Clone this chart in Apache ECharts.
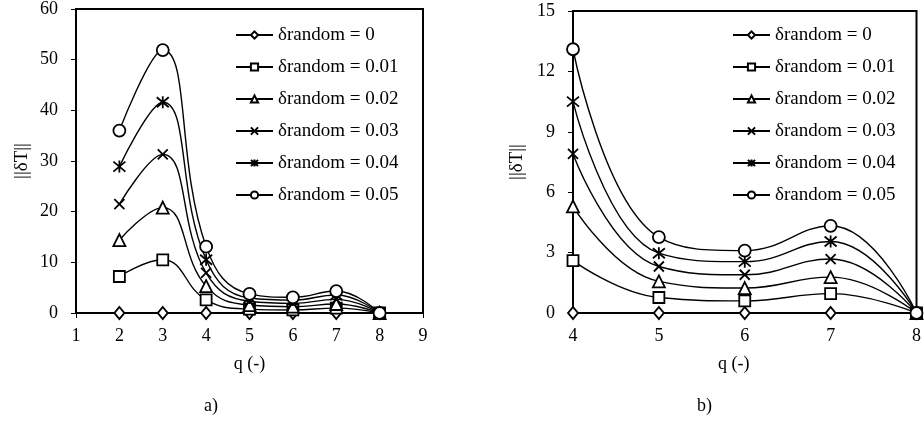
<!DOCTYPE html>
<html>
<head>
<meta charset="utf-8">
<script src="https://cdn.jsdelivr.net/npm/echarts@6/dist/echarts.min.js"></script>
<style>
  html, body { margin: 0; padding: 0; background: #fff; }
  #chart { width: 924px; height: 427px; }
</style>
</head>
<body>
<div id="chart"></div>
<script>
// q values and ||δT|| per δrandom level
const qValues = [2, 3, 4, 5, 6, 7, 8]
const names = ['δrandom = 0', 'δrandom = 0.01', 'δrandom = 0.02', 'δrandom = 0.03', 'δrandom = 0.04', 'δrandom = 0.05']
const r000 = [0, 0, 0, 0, 0, 0, 0]
const r001 = [7.2, 10.5, 2.6, 0.77, 0.6, 0.96, 0]
const r002 = [14.4, 20.8, 5.3, 1.57, 1.24, 1.78, 0]
const r003 = [21.5, 31.3, 7.9, 2.31, 1.9, 2.68, 0]
const r004 = [28.9, 41.6, 10.5, 2.97, 2.55, 3.55, 0]
const r005 = [36.0, 51.9, 13.1, 3.77, 3.1, 4.33, 0]
const values = [r000, r001, r002, r003, r004, r005]

// panel b) only shows q >= 4
const qMinRight = 4

const crossPath = 'path://M0,0L10,10M10,0L0,10'
const starPath = 'path://M0,0L10,10M10,0L0,10M5,-1L5,11'
const symbols = ['diamond', 'rect', 'triangle', crossPath, starPath, 'circle']
const symbolSizes = [[10, 12], 11, 12, 10, 12, 12]

const serif = 'Liberation Serif'

let myChart = echarts.init(document.getElementById('chart'))

let series = []
names.forEach((name, i) => {
  let left = []
  let right = []
  qValues.forEach((q, k) => {
    left.push([q, values[i][k]])
    if (q >= qMinRight) right.push([q, values[i][k]])
  })
  const base = {
    name: name,
    type: 'line',
    smooth: 0.45,
    symbol: symbols[i],
    symbolSize: symbolSizes[i],
    showAllSymbol: true,
    clip: false,
    lineStyle: { color: '#000', width: 1.4 },
    itemStyle: { color: '#fff', borderColor: '#000', borderWidth: 1.8 },
    z: 2 + i
  }
  series.push(Object.assign({}, base, { xAxisIndex: 0, yAxisIndex: 0, data: left }))
  series.push(Object.assign({}, base, { xAxisIndex: 1, yAxisIndex: 1, data: right }))
})

const axisCommon = {
  axisLine: { lineStyle: { color: '#000', width: 2 } },
  axisTick: { show: true, inside: false, length: 5, lineStyle: { color: '#000', width: 1 } },
  splitLine: { show: false }
}

const legendCommon = {
  orient: 'vertical',
  top: 25,
  padding: 0,
  itemWidth: 37,
  itemHeight: 9,
  itemGap: 12,
  selectedMode: false,
  textStyle: { color: '#000', fontFamily: serif, fontSize: 19, lineHeight: 20 },
  data: names
}

const labelStyle = { color: '#000', fontFamily: serif, fontSize: 18 }

myChart.setOption({
  animation: false,
  backgroundColor: '#fff',
  title: [
    { text: 'a)', left: 199, top: 392, textStyle: { color: '#000', fontFamily: serif, fontSize: 18, fontWeight: 'normal' } },
    { text: 'b)', left: 692, top: 392, textStyle: { color: '#000', fontFamily: serif, fontSize: 18, fontWeight: 'normal' } }
  ],
  legend: [
    Object.assign({ left: 235 }, legendCommon),
    Object.assign({ left: 732 }, legendCommon)
  ],
  grid: [
    { left: 76, right: 501, top: 9, bottom: 114, show: true, borderColor: '#000', borderWidth: 2 },
    { left: 573, right: 5, top: 11, bottom: 114, show: true, borderColor: '#000', borderWidth: 2 }
  ],
  xAxis: [
    Object.assign({}, axisCommon, {
      gridIndex: 0, type: 'value', min: 1, max: 9, interval: 1,
      name: 'q (-)', nameLocation: 'middle', nameGap: 42,
      nameTextStyle: labelStyle,
      axisLabel: Object.assign({ margin: 14 }, labelStyle)
    }),
    Object.assign({}, axisCommon, {
      gridIndex: 1, type: 'value', min: 4, max: 8, interval: 1,
      name: 'q (-)', nameLocation: 'middle', nameGap: 42,
      nameTextStyle: Object.assign({ padding: [0, 22, 0, 0] }, labelStyle),
      axisLabel: Object.assign({ margin: 14 }, labelStyle)
    })
  ],
  yAxis: [
    Object.assign({}, axisCommon, {
      gridIndex: 0, type: 'value', min: 0, max: 60, interval: 10,
      name: '||δT||', nameLocation: 'middle', nameGap: 44, nameRotate: 90,
      nameTextStyle: Object.assign({}, labelStyle, { fontSize: 19 }),
      axisLabel: Object.assign({ margin: 18 }, labelStyle)
    }),
    Object.assign({}, axisCommon, {
      gridIndex: 1, type: 'value', min: 0, max: 15, interval: 3,
      name: '||δT||', nameLocation: 'middle', nameGap: 46, nameRotate: 90,
      nameTextStyle: Object.assign({}, labelStyle, { fontSize: 19 }),
      axisLabel: Object.assign({ margin: 18 }, labelStyle)
    })
  ],
  series: series
})
</script>
</body>
</html>
